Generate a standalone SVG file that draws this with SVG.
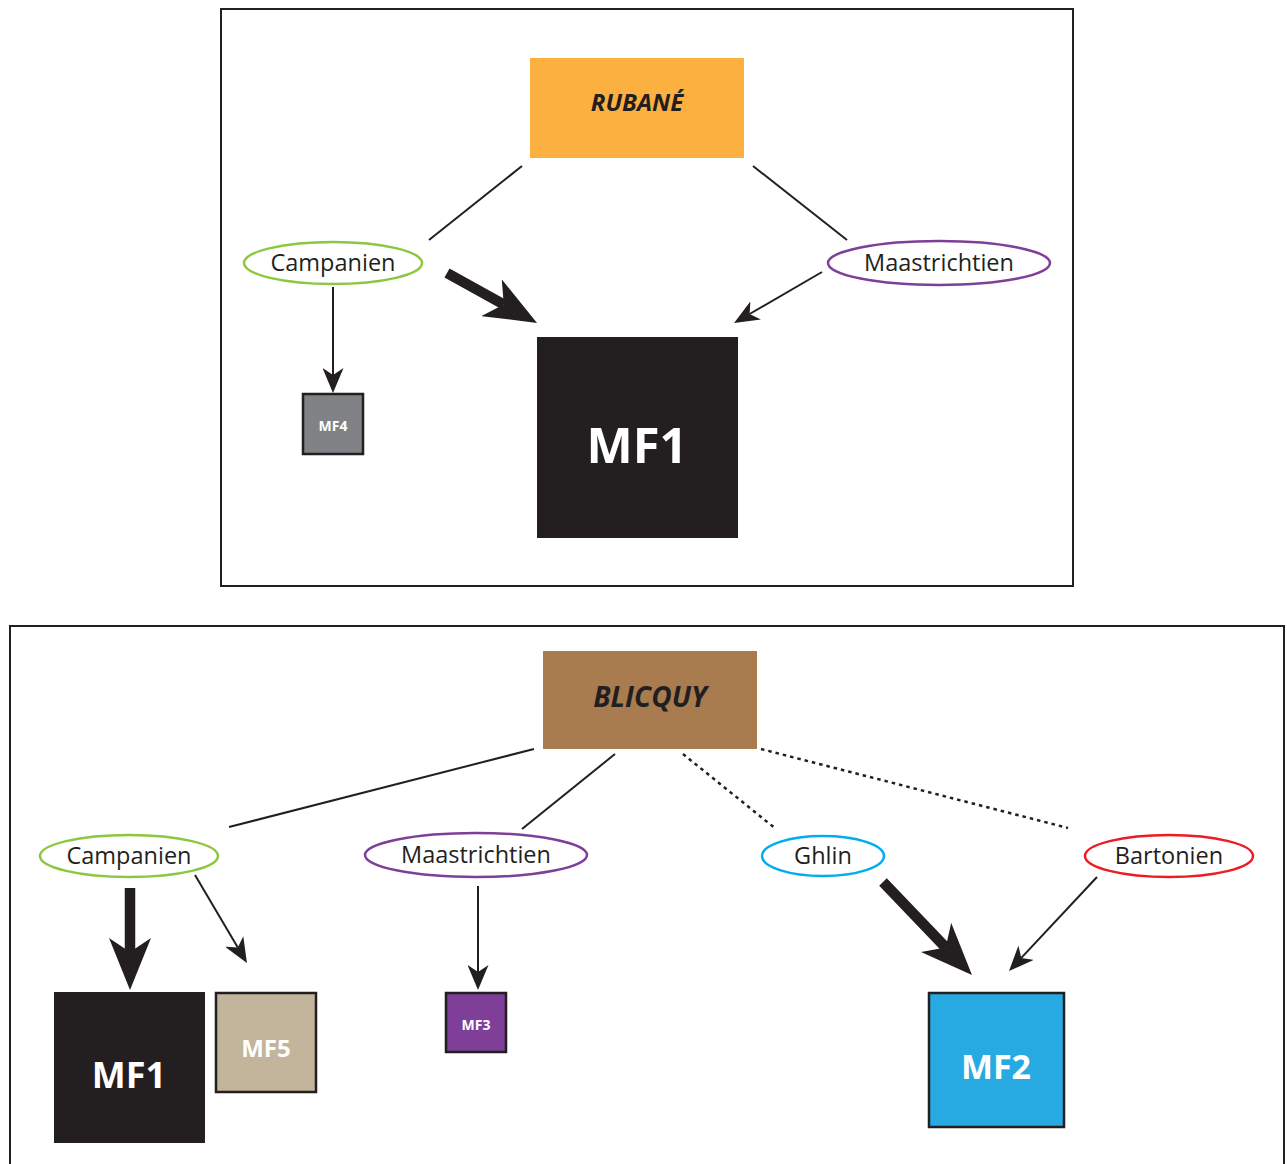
<svg xmlns="http://www.w3.org/2000/svg" width="1287" height="1164" viewBox="0 0 1287 1164">
<defs>
<style>
.frame{fill:none;stroke:#231f20;stroke-width:2}
.ln{stroke:#231f20;stroke-width:2;fill:none}
.dash{stroke:#231f20;stroke-width:2.5;fill:none;stroke-dasharray:3.5 4}
.thick{stroke:#231f20;stroke-width:10.5;fill:none}
.ell{fill:#fff;stroke-width:2.5}
.lbl{font-family:"Open Sans","Liberation Sans",sans-serif;font-size:23.5px;fill:#231f20;text-anchor:middle}
.ttl{font-family:"Open Sans","Liberation Sans",sans-serif;font-weight:bold;font-style:italic;fill:#231f20;text-anchor:middle}
.mf{font-family:"Open Sans","Liberation Sans",sans-serif;font-weight:bold;fill:#fff;text-anchor:middle}
.box{stroke:#231f20;stroke-width:2.5}
</style>
<marker id="thin" viewBox="0 0 25 21" refX="7" refY="10.5" markerWidth="25" markerHeight="21" markerUnits="userSpaceOnUse" orient="auto">
<path d="M0,0 L25,10.5 L0,21 L7,10.5 Z" fill="#231f20"/>
</marker>
<marker id="big" viewBox="0 0 52 42" refX="14" refY="21" markerWidth="52" markerHeight="42" markerUnits="userSpaceOnUse" orient="auto">
<path d="M0,0 L52,21 L0,42 L14,21 Z" fill="#231f20"/>
</marker>
</defs>
<rect width="1287" height="1164" fill="#fff"/>
<rect class="frame" x="221" y="9" width="852" height="577"/>
<rect class="frame" x="10" y="626" width="1274" height="560"/>

<g id="connectors">
<line class="ln" x1="522" y1="166" x2="429" y2="240"/>
<line class="ln" x1="753" y1="166" x2="847" y2="240"/>
<line class="thick" x1="447" y1="273" x2="503.8" y2="304.5" marker-end="url(#big)"/>
<line class="ln" x1="822" y1="272" x2="749.6" y2="314" marker-end="url(#thin)"/>
<line class="ln" x1="333" y1="287" x2="333" y2="375" marker-end="url(#thin)"/>

<line class="ln" x1="534" y1="749" x2="229" y2="827"/>
<line class="ln" x1="615" y1="754" x2="522" y2="829"/>
<line class="dash" x1="683" y1="754" x2="776" y2="829"/>
<line class="dash" x1="761" y1="749" x2="1068" y2="828"/>
<line class="thick" x1="130" y1="888" x2="130" y2="952" marker-end="url(#big)"/>
<line class="ln" x1="195" y1="875" x2="237.8" y2="947.5" marker-end="url(#thin)"/>
<line class="ln" x1="478" y1="886" x2="478" y2="972" marker-end="url(#thin)"/>
<line class="thick" x1="883" y1="882" x2="945.7" y2="947.5" marker-end="url(#big)"/>
<line class="ln" x1="1097" y1="877" x2="1021.3" y2="957.9" marker-end="url(#thin)"/>
</g>

<g id="rubane">
<rect x="530" y="58" width="214" height="100" fill="#fbb040"/>
<text class="ttl" x="637" y="111" font-size="24">RUBANÉ</text>
</g>
<g id="campanien-top">
<ellipse class="ell" cx="333" cy="263" rx="89" ry="21" stroke="#8dc63f"/>
<text class="lbl" x="333" y="271">Campanien</text>
</g>
<g id="maastrichtien-top">
<ellipse class="ell" cx="939" cy="263" rx="111" ry="22" stroke="#7f3f98"/>
<text class="lbl" x="939" y="271">Maastrichtien</text>
</g>
<g id="mf4-top">
<rect class="box" x="303" y="394" width="60" height="60" fill="#808285"/>
<text class="mf" x="333" y="431" font-size="14">MF4</text>
</g>
<g id="mf1-top">
<rect x="537" y="337" width="201" height="201" fill="#231f20"/>
<text class="mf" x="637" y="463" font-size="49">MF1</text>
</g>

<g id="blicquy">
<rect x="543" y="651" width="214" height="98" fill="#a97c50"/>
<text class="ttl" x="650" y="707" font-size="28">BLICQUY</text>
</g>
<g id="campanien-bottom">
<ellipse class="ell" cx="129" cy="856" rx="89" ry="21" stroke="#8dc63f"/>
<text class="lbl" x="129" y="864">Campanien</text>
</g>
<g id="maastrichtien-bottom">
<ellipse class="ell" cx="476" cy="855" rx="111" ry="22" stroke="#7f3f98"/>
<text class="lbl" x="476" y="863">Maastrichtien</text>
</g>
<g id="ghlin">
<ellipse class="ell" cx="823" cy="856" rx="61" ry="20" stroke="#00aeef"/>
<text class="lbl" x="823" y="864">Ghlin</text>
</g>
<g id="bartonien">
<ellipse class="ell" cx="1169" cy="856" rx="84" ry="21" stroke="#ed1c24"/>
<text class="lbl" x="1169" y="864">Bartonien</text>
</g>
<g id="mf1-bottom">
<rect x="54" y="992" width="151" height="151" fill="#231f20"/>
<text class="mf" x="129" y="1088" font-size="36">MF1</text>
</g>
<g id="mf5">
<rect class="box" x="216" y="993" width="100" height="99" fill="#c2b59b"/>
<text class="mf" x="266" y="1057" font-size="24">MF5</text>
</g>
<g id="mf3">
<rect class="box" x="446" y="993" width="60" height="59" fill="#7f3f98"/>
<text class="mf" x="476" y="1030" font-size="14">MF3</text>
</g>
<g id="mf2">
<rect class="box" x="929" y="993" width="135" height="134" fill="#27aae1"/>
<text class="mf" x="996" y="1079" font-size="34">MF2</text>
</g>
</svg>
